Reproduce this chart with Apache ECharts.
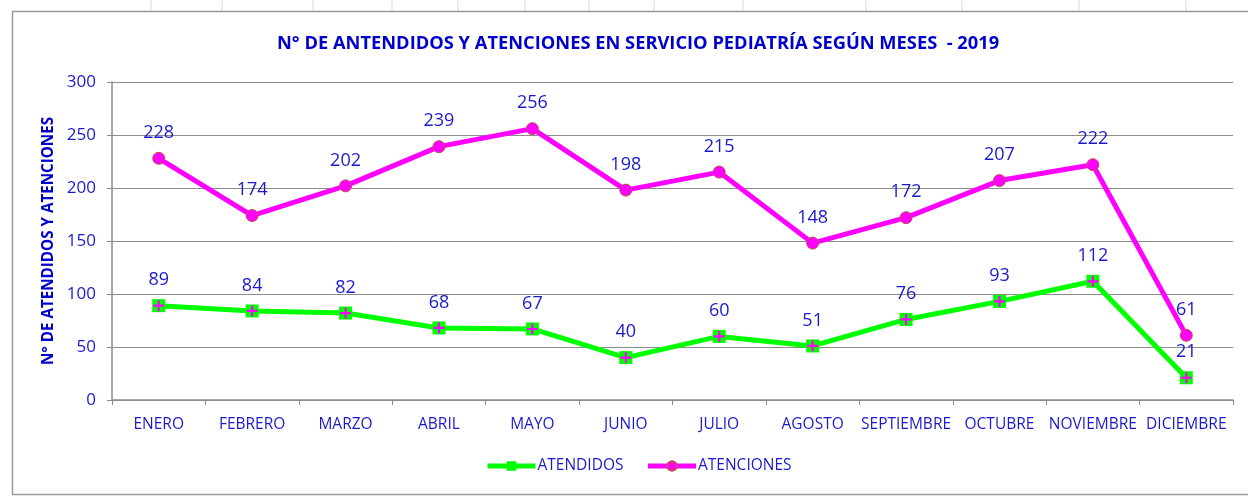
<!DOCTYPE html>
<html>
<head>
    <meta charset="utf-8">
    <title>Pediatría 2019</title>
    <script src="https://cdn.jsdelivr.net/npm/echarts@6.0.0/dist/echarts.min.js"></script>
    <style>
        body { margin: 0; background: #fff; }
        #chart { width: 1248px; height: 498px; }
    </style>
</head>
<body>
    <div id="chart"></div>
    <script>
        // datos
        var meses = ['ENERO', 'FEBRERO', 'MARZO', 'ABRIL', 'MAYO', 'JUNIO', 'JULIO', 'AGOSTO', 'SEPTIEMBRE', 'OCTUBRE', 'NOVIEMBRE', 'DICIEMBRE'];
        var atendidos = [89, 84, 82, 68, 67, 40, 60, 51, 76, 93, 112, 21];
        var atenciones = [228, 174, 202, 239, 256, 198, 215, 148, 172, 207, 222, 61];

        var azul = '#1a1acc';
        var fuente = 'Open Sans';

        // lineas de celdas de la hoja (decorativo)
        var celdas = [151, 222, 313, 392, 458, 525, 589, 654, 743, 866, 962, 1079, 1186];
        var graficos = celdas.map(function (x) {
            return { type: 'line', shape: { x1: x, y1: 0, x2: x, y2: 11 }, style: { stroke: '#d9d9d9', lineWidth: 1 }, silent: true };
        });
        graficos.push({ type: 'rect', shape: { x: 12.5, y: 11.5, width: 1250, height: 483 }, style: { fill: 'none', stroke: '#9a9a9a', lineWidth: 1.5 }, silent: true });

        var chart = echarts.init(document.getElementById('chart'));
        var option = {
            animation: false,
            backgroundColor: '#fff',
            graphic: graficos,
            title: {
                text: 'N° DE ANTENDIDOS Y ATENCIONES EN SERVICIO PEDIATRÍA SEGÚN MESES  - 2019',
                left: 272,
                top: 30,
                textStyle: { color: '#0000cc', fontSize: 18.3, fontWeight: 'bold', fontFamily: fuente }
            },
            legend: {
                data: ['ATENDIDOS', 'ATENCIONES'],
                bottom: 19,
                left: 480,
                itemWidth: 48,
                itemHeight: 12,
                itemGap: 22,
                lineStyle: { width: 5 },
                textStyle: { color: azul, fontSize: 15.5, fontFamily: fuente, padding: [0, 0, 0, -3] }
            },
            grid: { left: 112, right: 15, top: 82, bottom: 98 },
            xAxis: {
                type: 'category',
                data: meses,
                boundaryGap: true,
                axisLine: { lineStyle: { color: '#8c8c8c', width: 1.5 } },
                axisTick: { show: true, length: 5, lineStyle: { color: '#8c8c8c' } },
                axisLabel: { color: azul, fontSize: 15.5, fontFamily: fuente, margin: 17, interval: 0 }
            },
            yAxis: {
                type: 'value',
                min: 0,
                max: 300,
                interval: 50,
                name: 'N° DE ATENDIDOS Y ATENCIONES',
                nameLocation: 'middle',
                nameGap: 53,
                nameTextStyle: { color: '#0000cc', fontSize: 15.2, fontWeight: 'bold', fontFamily: fuente },
                axisLine: { show: true, lineStyle: { color: '#8c8c8c', width: 1.5 } },
                axisTick: { show: true, length: 5, lineStyle: { color: '#8c8c8c' } },
                axisLabel: { color: azul, fontSize: 17, fontFamily: fuente, margin: 16 },
                splitLine: { lineStyle: { color: '#8c8c8c', width: 1 } }
            },
            series: [
                {
                    name: 'ATENDIDOS',
                    type: 'line',
                    data: atendidos,
                    symbol: 'rect',
                    symbolSize: 13,
                    itemStyle: { color: '#00ff00' },
                    lineStyle: { color: '#00ff00', width: 5 },
                    label: { show: true, position: 'top', distance: 10, color: azul, fontSize: 18, fontFamily: fuente }
                },
                {
                    // cruz magenta sobre el marcador verde
                    name: 'cruz',
                    type: 'line',
                    data: atendidos,
                    symbol: 'path://M4,0H6V4H10V6H6V10H4V6H0V4H4Z',
                    symbolSize: 11,
                    itemStyle: { color: '#ff00ff' },
                    lineStyle: { opacity: 0 },
                    silent: true,
                    z: 3
                },
                {
                    name: 'ATENCIONES',
                    type: 'line',
                    data: atenciones,
                    symbol: 'circle',
                    symbolSize: 12,
                    itemStyle: { color: '#ff00ff', borderColor: '#c0504d', borderWidth: 1 },
                    lineStyle: { color: '#ff00ff', width: 5 },
                    label: { show: true, position: 'top', distance: 10, color: azul, fontSize: 18, fontFamily: fuente }
                }
            ]
        };
        chart.setOption(option);
    </script>
</body>
</html>
